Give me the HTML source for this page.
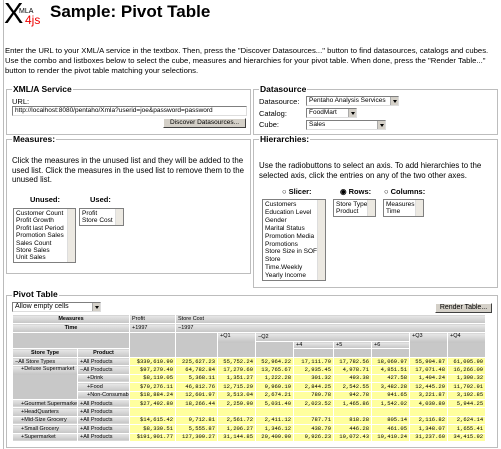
<!DOCTYPE html>
<html><head><meta charset="utf-8"><style>
*{margin:0;padding:0;box-sizing:border-box}
body{width:501px;height:449px;background:#fff;position:relative;overflow:hidden;font-family:"Liberation Sans",Arial,sans-serif;font-size:8px;color:#000}
.a{position:absolute;white-space:nowrap}
.fs{position:absolute;border:1px solid #bdbdbd;box-shadow:inset 1px 1px 0 #fff}
.lg{position:absolute;background:#fff;padding:0 1px;font-weight:bold;font-size:8.5px;line-height:9px}
.inp{position:absolute;border:1px solid #7f7f7f;border-right-color:#ddd;border-bottom-color:#ddd;background:#fff;font-size:6.5px;line-height:8px;padding-left:2px;overflow:hidden;white-space:nowrap}
.btn{position:absolute;background:#d4d0c8;border:1px solid;border-color:#fff #404040 #404040 #fff;font-size:6.5px;text-align:center;line-height:8px}
.arr{position:absolute;right:0;top:0;width:8px;height:100%;background:#d4d0c8;border-left:1px solid #aaa}
.arr:after{content:"";position:absolute;left:2px;top:3px;border:2px solid transparent;border-top:3px solid #000}
.lst{position:absolute;border:1px solid #7f7f7f;background:#fff;font-size:6.5px;line-height:7.4px;padding:1px 2px;overflow:hidden;white-space:nowrap}
.sb{position:absolute;right:0;top:0;bottom:0;width:8px;background:#ece9e2;border-left:1px solid #ddd}
table{position:absolute;left:12px;top:314px;width:473px;border-collapse:collapse;table-layout:fixed;font-size:5.5px}
td{border:1px solid #fff;padding:0 2px;overflow:hidden;white-space:nowrap;line-height:6px}
.h{background:linear-gradient(#e8e8e8,#c4c4c4);}
.hb{background:linear-gradient(#e8e8e8,#c4c4c4);font-weight:bold;text-align:center}
.g{background:#c8c8c8}
.v{background:#ffff9e;text-align:right;font-family:"Liberation Mono",monospace;font-size:5.5px}
tr.d td{height:8.4px}
</style></head><body>
<div class="a" style="left:3px;top:0;width:1px;height:449px;background:#bbb"></div>
<div class="a" style="left:4px;top:0px;font-size:29px;line-height:29px;font-family:'Liberation Sans',sans-serif">X</div>
<div class="a" style="left:19px;top:8px;font-size:7px">MLA</div>
<div class="a" style="left:25px;top:13px;font-size:12px;color:#e00">4js</div>
<div class="a" style="left:50px;top:2px;font-size:17px;font-weight:bold">Sample: Pivot Table</div>
<div class="a" style="left:5px;top:46px;font-size:7.7px;line-height:10px">Enter the URL to your XML/A service in the textbox. Then, press the "Discover Datasources..." button to find datasources, catalogs and cubes.<br>Use the combo and listboxes below to select the cube, measures and hierarchies for your pivot table. When done, press the "Render Table..."<br>button to render the pivot table matching your selections.</div>

<div class="fs" style="left:6px;top:89px;width:245px;height:46px"></div>
<div class="lg" style="left:12px;top:85px">XML/A Service</div>
<div class="a" style="left:12px;top:97px;font-size:7.5px">URL:</div>
<div class="inp" style="left:12px;top:106px;width:235px;height:10px">http://localhost:8080/pentaho/Xmla?userid=joe&amp;password=password</div>
<div class="btn" style="left:163px;top:118px;width:83px;height:10px">Discover Datasources...</div>

<div class="fs" style="left:253px;top:89px;width:245px;height:46px"></div>
<div class="lg" style="left:259px;top:85px">Datasource</div>
<div class="a" style="left:259px;top:97px;font-size:7.5px">Datasource:</div>
<div class="a" style="left:259px;top:109px;font-size:7.5px">Catalog:</div>
<div class="a" style="left:259px;top:120px;font-size:7.5px">Cube:</div>
<div class="inp" style="left:306px;top:96px;width:93px;height:10px">Pentaho Analysis Services<span class="arr"></span></div>
<div class="inp" style="left:306px;top:108px;width:51px;height:10px">FoodMart<span class="arr"></span></div>
<div class="inp" style="left:306px;top:120px;width:80px;height:10px">Sales<span class="arr"></span></div>

<div class="fs" style="left:6px;top:139px;width:245px;height:135px"></div>
<div class="lg" style="left:12px;top:135px">Measures:</div>
<div class="a" style="left:12px;top:156px;font-size:7.9px;line-height:9.5px">Click the measures in the unused list and they will be added to the<br>used list. Click the measures in the used list to remove them to the<br>unused list.</div>
<div class="a" style="left:30px;top:195px;font-weight:bold;font-size:7.5px">Unused:</div>
<div class="a" style="left:90px;top:195px;font-weight:bold;font-size:7.5px">Used:</div>
<div class="lst" style="left:13px;top:208px;width:63px;height:55px">Customer Count<br>Profit Growth<br>Profit last Period<br>Promotion Sales<br>Sales Count<br>Store Sales<br>Unit Sales<span class="sb"></span></div>
<div class="lst" style="left:79px;top:208px;width:45px;height:18px">Profit<br>Store Cost<span class="sb"></span></div>

<div class="fs" style="left:253px;top:139px;width:245px;height:149px"></div>
<div class="lg" style="left:259px;top:135px">Hierarchies:</div>
<div class="a" style="left:259px;top:161px;font-size:7.9px;line-height:9.5px">Use the radiobuttons to select an axis. To add hierarchies to the<br>selected axis, click the entries on any of the two other axes.</div>
<div class="a" style="left:282px;top:187px;font-weight:bold;font-size:7.5px">○ Slicer:</div>
<div class="a" style="left:340px;top:187px;font-weight:bold;font-size:7.5px">◉ Rows:</div>
<div class="a" style="left:384px;top:187px;font-weight:bold;font-size:7.5px">○ Columns:</div>
<div class="lst" style="left:262px;top:199px;width:64px;height:82px;line-height:7.9px">Customers<br>Education Level<br>Gender<br>Marital Status<br>Promotion Media<br>Promotions<br>Store Size in SOFT<br>Store<br>Time.Weekly<br>Yearly Income<span class="sb"></span></div>
<div class="lst" style="left:333px;top:199px;width:43px;height:18px">Store Type<br>Product<span class="sb"></span></div>
<div class="lst" style="left:383px;top:199px;width:41px;height:18px">Measures<br>Time<span class="sb"></span></div>

<div class="fs" style="left:6px;top:295px;width:492px;height:153px"></div>
<div class="lg" style="left:12px;top:290px">Pivot Table</div>
<div class="inp" style="left:12px;top:302px;width:89px;height:10px;font-size:7px">Allow empty cells<span class="arr"></span></div>
<div class="btn" style="left:435px;top:303px;width:57px;height:10px;font-size:7px">Render Table...</div>

<table>
<colgroup><col style="width:65px"><col style="width:52px"><col style="width:46px"><col style="width:42px"><col style="width:38px"><col style="width:38px"><col style="width:40px"><col style="width:38px"><col style="width:38px"><col style="width:38px"><col style="width:38px"></colgroup>
<tr style="height:9px"><td colspan="2" class="hb">Measures</td><td class="h">Profit</td><td colspan="8" class="h">Store Cost</td></tr>
<tr style="height:9px"><td colspan="2" class="hb">Time</td><td class="h">+1997</td><td colspan="8" class="h">−1997</td></tr>
<tr style="height:9px"><td colspan="2" rowspan="2" class="g"></td><td rowspan="3" class="g"></td><td rowspan="3" class="g"></td><td rowspan="3" class="h" style="vertical-align:top;background:linear-gradient(#e8e8e8,#c4c4c4 9px,#c8c8c8 9px)">+Q1</td><td colspan="4" class="h">−Q2</td><td rowspan="3" class="h" style="vertical-align:top;background:linear-gradient(#e8e8e8,#c4c4c4 9px,#c8c8c8 9px)">+Q3</td><td rowspan="3" class="h" style="vertical-align:top;background:linear-gradient(#e8e8e8,#c4c4c4 9px,#c8c8c8 9px)">+Q4</td></tr>
<tr style="height:7px"><td rowspan="2" class="g"></td><td class="h">+4</td><td class="h">+5</td><td class="h">+6</td></tr>
<tr style="height:9px"><td class="hb">Store Type</td><td class="hb">Product</td><td class="g"></td><td class="g"></td><td class="g"></td></tr>
<tr class="d"><td class="h">−All Store Types</td><td class="h">+All Products</td><td class="v">$339,610.90</td><td class="v">225,627.23</td><td class="v">55,752.24</td><td class="v">52,964.22</td><td class="v">17,111.70</td><td class="v">17,782.56</td><td class="v">18,069.97</td><td class="v">55,904.87</td><td class="v">61,005.90</td></tr>
<tr class="d"><td class="h" rowspan="4" style="vertical-align:top;padding-left:8px;background:linear-gradient(#e8e8e8,#c4c4c4 8px,#c8c8c8 8px)">+Deluxe Supermarket</td><td class="h">−All Products</td><td class="v">$97,279.40</td><td class="v">64,782.84</td><td class="v">17,279.60</td><td class="v">13,765.67</td><td class="v">2,935.45</td><td class="v">4,978.71</td><td class="v">4,851.51</td><td class="v">17,071.48</td><td class="v">16,266.09</td></tr>
<tr class="d"><td class="h" style="padding-left:9px">+Drink</td><td class="v">$8,119.05</td><td class="v">5,368.11</td><td class="v">1,351.27</td><td class="v">1,222.28</td><td class="v">301.32</td><td class="v">493.38</td><td class="v">427.58</td><td class="v">1,404.24</td><td class="v">1,390.32</td></tr>
<tr class="d"><td class="h" style="padding-left:9px">+Food</td><td class="v">$70,276.11</td><td class="v">46,812.76</td><td class="v">12,715.29</td><td class="v">9,969.19</td><td class="v">2,844.25</td><td class="v">2,542.55</td><td class="v">3,482.28</td><td class="v">12,445.29</td><td class="v">11,792.91</td></tr>
<tr class="d"><td class="h" style="padding-left:9px">+Non-Consumable</td><td class="v">$18,884.24</td><td class="v">12,601.97</td><td class="v">3,513.04</td><td class="v">2,674.21</td><td class="v">789.78</td><td class="v">942.78</td><td class="v">941.65</td><td class="v">3,221.87</td><td class="v">3,192.85</td></tr>
<tr class="d"><td class="h" style="padding-left:8px">+Gourmet Supermarket</td><td class="h">+All Products</td><td class="v">$27,492.80</td><td class="v">18,266.44</td><td class="v">2,259.90</td><td class="v">5,031.40</td><td class="v">2,023.52</td><td class="v">1,465.86</td><td class="v">1,542.02</td><td class="v">4,030.89</td><td class="v">5,944.25</td></tr>
<tr class="d"><td class="h" style="padding-left:8px">+HeadQuarters</td><td class="h">+All Products</td><td class="v"></td><td class="v"></td><td class="v"></td><td class="v"></td><td class="v"></td><td class="v"></td><td class="v"></td><td class="v"></td><td class="v"></td></tr>
<tr class="d"><td class="h" style="padding-left:8px">+Mid-Size Grocery</td><td class="h">+All Products</td><td class="v">$14,615.42</td><td class="v">9,712.81</td><td class="v">2,561.72</td><td class="v">2,411.12</td><td class="v">787.71</td><td class="v">818.28</td><td class="v">805.14</td><td class="v">2,116.82</td><td class="v">2,624.14</td></tr>
<tr class="d"><td class="h" style="padding-left:8px">+Small Grocery</td><td class="h">+All Products</td><td class="v">$8,330.51</td><td class="v">5,555.87</td><td class="v">1,206.27</td><td class="v">1,346.12</td><td class="v">438.79</td><td class="v">446.28</td><td class="v">461.05</td><td class="v">1,348.07</td><td class="v">1,655.41</td></tr>
<tr class="d"><td class="h" style="padding-left:8px">+Supermarket</td><td class="h">+All Products</td><td class="v">$191,901.77</td><td class="v">127,309.27</td><td class="v">31,144.85</td><td class="v">20,409.90</td><td class="v">9,926.23</td><td class="v">10,072.43</td><td class="v">10,410.24</td><td class="v">31,237.60</td><td class="v">34,415.92</td></tr>
</table>
</body></html>
